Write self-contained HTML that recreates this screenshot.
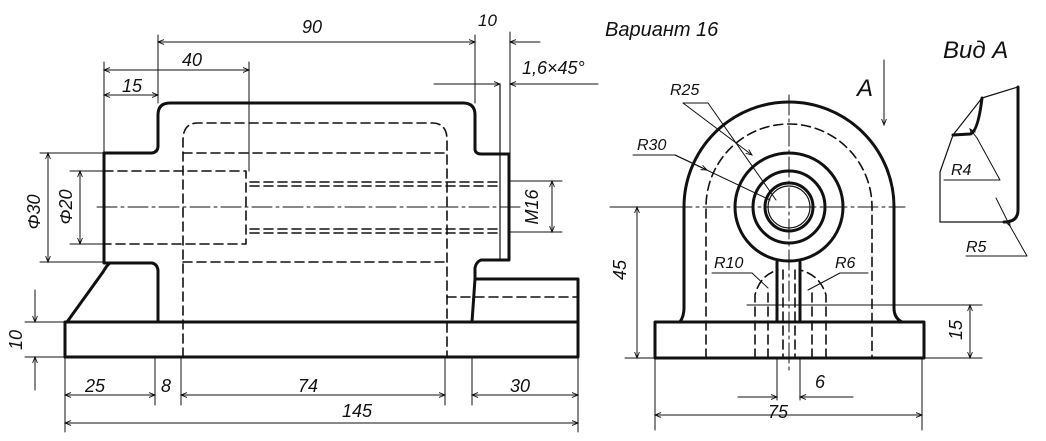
<!DOCTYPE html>
<html><head><meta charset="utf-8"><style>
html,body{margin:0;padding:0;background:#fff}
svg{display:block}
text{font-family:"Liberation Sans",sans-serif;font-style:italic;fill:#111}
</style></head><body>
<svg width="1046" height="441" viewBox="0 0 1046 441" xmlns="http://www.w3.org/2000/svg">
<defs>
<marker id="a" viewBox="0 0 10 10" refX="10" refY="5" markerWidth="9" markerHeight="6" orient="auto-start-reverse"><path d="M0,1 L10,5 L0,9" fill="none" stroke="#111" stroke-width="1.5"/></marker>
</defs>
<g fill="none" stroke="#111" stroke-linecap="round" stroke-linejoin="round">
<g stroke-width="3">
<path d="M65,357 L578,357 L578,279 L475,279"/>
<path d="M65,357 L65,322 L578,322"/>
<path d="M67,322 L103,272 Q107,265 110,263 L104,263 L104,153 L152,153 Q158,152 158,146 L158,115 Q158,103 170,103 L463,103 Q475,103 475,115 L475,150 Q476,154 481,154 L509,154 L509,260 L481,260 Q476,262 475,268 L475,279"/>
<path d="M107,263 L152,263 Q157,264 158,270 L158,322"/>
<path d="M475,279 L472,322"/>
</g>
<g stroke-width="1.6" stroke-dasharray="9,5">
<path d="M183,357 L183,140 Q183,123 198,123 L432,123 Q447,123 447,140 L447,357"/>
<path d="M183,153 L447,153"/><path d="M183,262 L447,262"/>
<path d="M104,171 L246,171 L246,244 L104,244"/>
<path d="M250,182 L500,182"/><path d="M250,186 L500,186"/>
<path d="M250,229 L500,229"/><path d="M250,233 L500,233"/>
<path d="M447,297 L578,297"/>
</g>
<path d="M500,85 L500,260" stroke-width="1.2"/>
<path d="M97,207 L520,207" stroke-width="1" stroke-dasharray="20,4,3,4"/>
<g stroke-width="1" marker-start="url(#a)" marker-end="url(#a)">
<path d="M158,42 L475,42"/>
<path d="M104,70 L249,70"/>
<path d="M104,95 L158,95"/>
<path d="M48,153 L48,262"/>
<path d="M80,171 L80,244"/>
<path d="M552,181 L552,232"/>
<path d="M65,395 L155,395"/><path d="M181,395 L445,395"/><path d="M472,395 L578,395"/>
<path d="M65,423 L578,423"/>
</g>
<g stroke-width="1">
<path d="M158,35 L158,103"/><path d="M475,35 L475,103"/><path d="M510,32 L510,154"/>
<path d="M540,42 L510,42" marker-end="url(#a)"/>
<path d="M104,62 L104,153"/><path d="M249,62 L249,171"/>
<path d="M434,84 L500,84" marker-end="url(#a)"/><path d="M598,84 L510,84" marker-end="url(#a)"/>
<path d="M40,153 L104,153"/><path d="M70,171 L104,171"/><path d="M40,262 L104,262"/><path d="M70,244 L104,244"/>
<path d="M509,181 L562,181"/><path d="M509,232 L562,232"/>
<path d="M25,322 L65,322"/><path d="M25,357 L65,357"/>
<path d="M35,290 L35,322" marker-end="url(#a)"/><path d="M35,390 L35,357" marker-end="url(#a)"/>
<path d="M65,357 L65,432"/><path d="M155,357 L155,405"/><path d="M181,357 L181,405"/>
<path d="M445,357 L445,405"/><path d="M472,357 L472,405"/><path d="M578,357 L578,432"/>
</g>
<g stroke-width="3">
<path d="M655,322 L924,322 L924,358 L655,358 Z"/>
<path d="M680,322 Q684,316 684,308 L684,207 A105,105 0 0 1 894,207 L894,308 Q894,318 902,322"/>
<circle cx="789" cy="207" r="54"/>
<circle cx="789" cy="207" r="36"/>
<circle cx="789" cy="207" r="24"/>
<path d="M777,262 Q777,268 777,275 L777,322"/><path d="M800,262 Q800,268 800,275 L800,322"/>
</g>
<circle cx="789" cy="207" r="21" stroke-width="1.2"/>
<g stroke-width="1.6" stroke-dasharray="9,5">
<path d="M706,358 L706,207 A83,83 0 0 1 872,207 L872,358"/>
<path d="M755,358 L755,295 Q760,275 778,270"/><path d="M826,358 L826,295 Q820,275 800,270"/>
<path d="M768,358 L768,290"/><path d="M812,358 L812,290"/>
<path d="M783,270 L783,358"/><path d="M795,270 L795,358"/>
</g>
<g stroke-width="1" stroke-dasharray="20,4,3,4">
<path d="M610,207 L905,207"/><path d="M789,95 L789,370"/>
</g>
<g stroke-width="1">
<path d="M747,305 L982,305"/><path d="M925,358 L982,358"/><path d="M625,358 L655,358"/><path d="M625,207 L684,207"/>
<path d="M777,358 L777,400"/><path d="M800,358 L800,400"/>
<path d="M655,358 L655,430"/><path d="M922,358 L922,430"/>
<path d="M683,103 L708,103 L776,200"/><path d="M633,155 L675,155 L770,200"/>
<path d="M712,273 L752,273 L768,288"/><path d="M868,273 L840,273 L808,290"/>
<path d="M884,60 L884,125" marker-end="url(#a)"/>
</g>
<g stroke-width="1" marker-start="url(#a)" marker-end="url(#a)">
<path d="M637,207 L637,358"/><path d="M970,305 L970,358"/><path d="M655,415 L922,415"/>
</g>
<g stroke-width="1" marker-end="url(#a)">
<path d="M738,397 L777,397"/><path d="M853,397 L800,397"/>
<path d="M683,103 L752,155" /><path d="M675,155 L707,170"/>
</g>
<path d="M1018,87 L982,98 L953,135 L940,172 L940,222 L1008,222" stroke-width="1.2"/>
<path d="M1018,87 L1018,210 Q1018,222 1004,222" stroke-width="3"/>
<path d="M982,98 Q978,132 970,134 L953,135" stroke-width="3"/>
<path d="M944,180 L1000,180 L977,138" stroke-width="1"/>
<path d="M977,138 L970,129" stroke-width="1" marker-end="url(#a)"/>
<path d="M966,256 L1027,256 L1010,226" stroke-width="1"/>
<path d="M996,198 L1010,226" stroke-width="1" marker-end="url(#a)"/>
</g>
<g font-size="18">
<text x="302" y="33">90</text>
<text x="478" y="26" font-size="17">10</text>
<text x="182" y="66">40</text>
<text x="122" y="92">15</text>
<text x="522" y="74" font-size="18">1,6×45°</text>
<text x="85" y="392">25</text>
<text x="161" y="392">8</text>
<text x="298" y="392">74</text>
<text x="510" y="392">30</text>
<text x="342" y="417">145</text>
<text transform="translate(40,212) rotate(-90)" text-anchor="middle">Φ30</text>
<text transform="translate(72,207) rotate(-90)" text-anchor="middle">Φ20</text>
<text transform="translate(538,207) rotate(-90)" text-anchor="middle">M16</text>
<text transform="translate(22,340) rotate(-90)" text-anchor="middle">10</text>
<text x="605" y="36" font-size="20">Вариант 16</text>
<text x="943" y="58" font-size="24">Вид  А</text>
<text x="857" y="96" font-size="24">А</text>
<text x="670" y="95" font-size="16">R25</text>
<text x="637" y="150" font-size="16">R30</text>
<text x="714" y="268" font-size="16">R10</text>
<text x="835" y="268" font-size="16">R6</text>
<text x="951" y="175" font-size="16">R4</text>
<text x="966" y="252" font-size="16">R5</text>
<text x="815" y="388">6</text>
<text x="768" y="418">75</text>
<text transform="translate(626,270) rotate(-90)" text-anchor="middle">45</text>
<text transform="translate(962,330) rotate(-90)" text-anchor="middle">15</text>
</g>
</svg>
</body></html>
